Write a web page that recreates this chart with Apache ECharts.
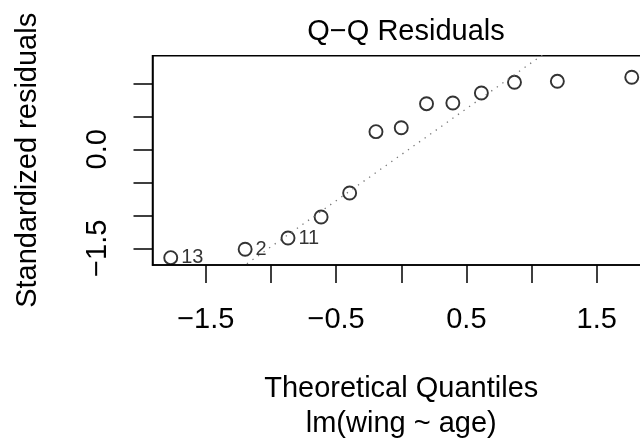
<!DOCTYPE html>
<html>
<head>
<meta charset="utf-8">
<script src="https://cdn.jsdelivr.net/npm/echarts@6/dist/echarts.min.js"></script>
<style>
html,body{margin:0;padding:0;background:#fff;}
#chart{width:640px;height:447px;}
</style>
</head>
<body>
<div id="chart"></div>
<script>
// Theoretical quantiles (x) and standardized residuals (y)
var quantiles = [-1.769, -1.198, -0.869, -0.615, -0.396, -0.194, 0, 0.194, 0.396, 0.615, 0.869, 1.198, 1.769];
var residuals = [-1.642, -1.515, -1.344, -1.026, -0.662, 0.267, 0.327, 0.691, 0.701, 0.853, 1.015, 1.030, 1.091];
var pointLabels = ['13', '2', '11', '', '', '', '', '', '', '', '', '', ''];
// Reference line (qqline) endpoints
var lineX = [-1.909, 1.909];
var lineY = [-2.745, 2.581];
// Axis ticks and labels
var xTicks = [-1.5, -1.0, -0.5, 0, 0.5, 1.0, 1.5];
var xTickLabels = [-1.5, -0.5, 0.5, 1.5];
var yTicks = [-1.5, -1.0, -0.5, 0, 0.5, 1.0];
var yTickLabels = [-1.5, 0];

var FONT = "'Liberation Sans', Arial, Helvetica, sans-serif";
function fmt(v){ return (v < 0 ? '\u2212' : '') + Math.abs(v).toFixed(1); }

var pts = quantiles.map(function(q, i){ return {value:[q, residuals[i]], label:pointLabels[i]}; });
var linePts = lineX.map(function(x, i){ return [x, lineY[i]]; });

var chart = echarts.init(document.getElementById('chart'), null, {renderer:'canvas'});
chart.setOption({
  backgroundColor:'#fff',
  animation:false,
  title:{
    text:'Q\u2212Q Residuals',
    left:401, top:12, textAlign:'center',
    textStyle:{fontFamily:FONT, fontSize:29, fontWeight:'normal', color:'#000'}
  },
  grid:{left:152.5, top:55.7, width:497.5, height:209.3, outerBoundsMode:'none', containLabel:false,
    show:true, borderColor:'#000', borderWidth:1.5, backgroundColor:'transparent'},
  xAxis:{
    type:'value', min:-1.909, max:1.909,
    name:'Theoretical Quantiles\nlm(wing ~ age)', nameLocation:'middle', nameGap:106,
    nameTextStyle:{fontFamily:FONT, fontSize:29, color:'#000', lineHeight:35},
    axisLine:{show:true, onZero:false, lineStyle:{color:'#000', width:1.5}},
    axisTick:{show:true, length:18, lineStyle:{color:'#000', width:1.5}, customValues:xTicks},
    axisLabel:{fontFamily:FONT, fontSize:29, color:'#000', margin:40, customValues:xTickLabels, formatter:fmt},
    splitLine:{show:false}
  },
  yAxis:{
    type:'value', min:-1.753, max:1.418,
    name:'Standardized residuals', nameLocation:'middle', nameGap:110, nameRotate:90,
    nameTextStyle:{fontFamily:FONT, fontSize:29, color:'#000'},
    axisLine:{show:true, onZero:false, lineStyle:{color:'#000', width:1.5}},
    axisTick:{show:true, length:19, lineStyle:{color:'#000', width:1.5}, customValues:yTicks},
    axisLabel:{fontFamily:FONT, fontSize:29, color:'#000', margin:40, rotate:90, customValues:yTickLabels, formatter:fmt},
    splitLine:{show:false}
  },
  series:[
    {
      type:'line', data:linePts, symbol:'none', clip:true, silent:true,
      lineStyle:{color:'#777', width:1.3, type:[1.3, 5.5]}
    },
    {
      type:'scatter', data:pts, symbol:'circle', symbolSize:13,
      itemStyle:{color:'rgba(0,0,0,0)', borderColor:'#000', borderWidth:1.9},
      label:{show:true, position:'right', distance:3, fontFamily:FONT, fontSize:20, color:'#000',
        formatter:function(p){ return p.data.label; }}
    }
  ]
});
</script>
</body>
</html>
